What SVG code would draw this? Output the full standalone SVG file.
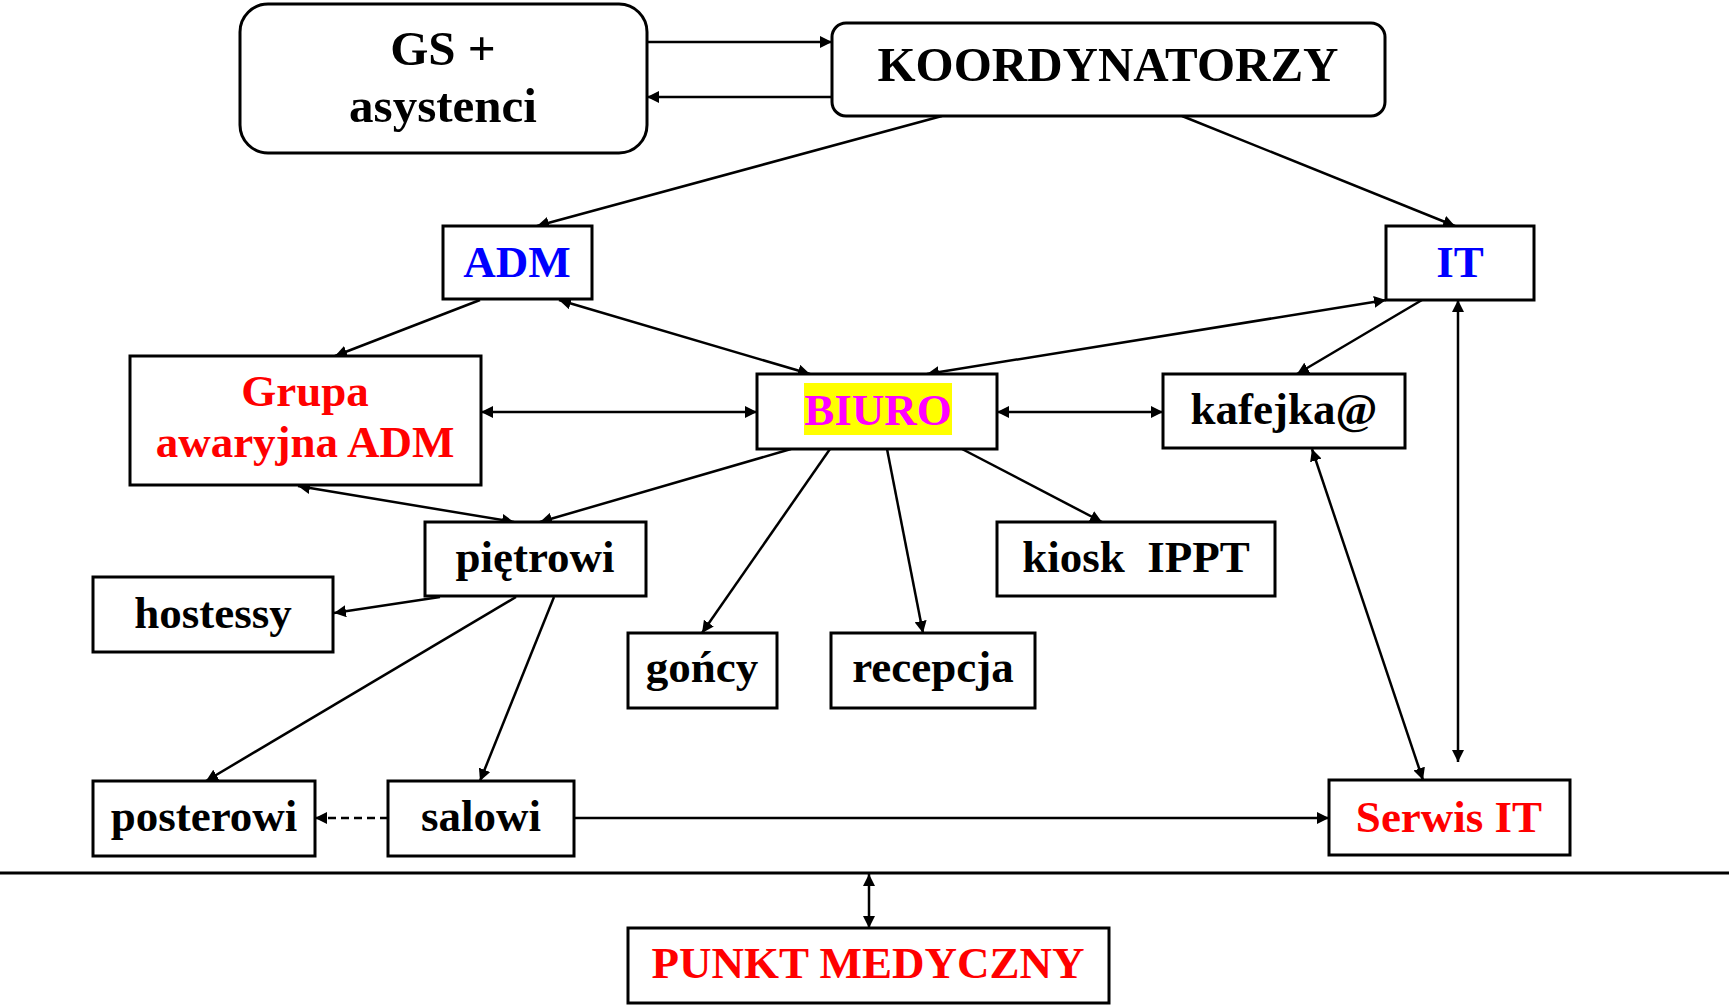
<svg xmlns="http://www.w3.org/2000/svg" width="1729" height="1005" viewBox="0 0 1729 1005">
<defs>
<marker id="ah" markerUnits="userSpaceOnUse" markerWidth="13" markerHeight="12" refX="12" refY="6" orient="auto-start-reverse" viewBox="0 0 13 12">
<path d="M0,0 L12,6 L0,12 z" fill="#000"/>
</marker>
<style>
.box{fill:#fff;stroke:#000;stroke-width:3}
.t{font-family:"Liberation Serif","Times New Roman",serif;font-weight:bold;font-size:45px;text-anchor:middle;fill:#000}
.big{font-size:49px}
.blue{fill:#0000ff}
.red{fill:#ff0000}
.mag{fill:#ff00ff}
.c{stroke:#000;stroke-width:2.5;fill:none}
.e{marker-end:url(#ah)}
.b{marker-start:url(#ah);marker-end:url(#ah)}
.dash{stroke-dasharray:8 5}
</style>
</defs>
<rect width="1729" height="1005" fill="#fff"/>
<g id="connectors">
<line class="c e" x1="647" y1="42" x2="832" y2="42"/>
<line class="c e" x1="832" y1="97" x2="647" y2="97"/>
<line class="c e" x1="942" y1="116" x2="537" y2="226"/>
<line class="c e" x1="1182" y1="116" x2="1455" y2="226"/>
<line class="c b" x1="559" y1="300" x2="810" y2="374"/>
<line class="c b" x1="1386" y1="300" x2="927" y2="374"/>
<line class="c e" x1="480" y1="300" x2="335" y2="356"/>
<line class="c e" x1="1422" y1="300" x2="1297" y2="374"/>
<line class="c b" x1="481" y1="412" x2="757" y2="412"/>
<line class="c b" x1="997" y1="412" x2="1163" y2="412"/>
<line class="c b" x1="1458" y1="300" x2="1458" y2="762"/>
<line class="c b" x1="1312" y1="449" x2="1423" y2="780"/>
<line class="c e" x1="791" y1="449" x2="540" y2="522"/>
<line class="c b" x1="298" y1="486" x2="514" y2="522"/>
<line class="c e" x1="830" y1="449" x2="702" y2="633"/>
<line class="c e" x1="887" y1="449" x2="923" y2="633"/>
<line class="c e" x1="962" y1="449" x2="1102" y2="522"/>
<line class="c e" x1="440" y1="597" x2="334" y2="613"/>
<line class="c e" x1="516" y1="597" x2="206" y2="781"/>
<line class="c e" x1="554" y1="597" x2="480" y2="781"/>
<line class="c e dash" x1="388" y1="818" x2="315" y2="818"/>
<line class="c e" x1="574" y1="818" x2="1329" y2="818"/>
<line class="c b" x1="869" y1="874" x2="869" y2="928"/>
<line x1="0" y1="873" x2="1729" y2="873" stroke="#000" stroke-width="3"/>
</g>
<g id="gs">
<rect class="box" x="240" y="4" width="407" height="149" rx="28"/>
<text class="t big" x="443" y="65">GS +</text>
<text class="t big" x="443" y="122">asystenci</text>
</g>
<g id="koordynatorzy">
<rect class="box" x="832" y="23" width="553" height="93" rx="14"/>
<text class="t big" x="1108" y="81">KOORDYNATORZY</text>
</g>
<g id="adm">
<rect class="box" x="443" y="226" width="149" height="73"/>
<text class="t blue" x="517" y="277">ADM</text>
</g>
<g id="it">
<rect class="box" x="1386" y="226" width="148" height="74"/>
<text class="t blue" x="1460" y="277">IT</text>
</g>
<g id="grupa">
<rect class="box" x="130" y="356" width="351" height="129"/>
<text class="t red" x="305" y="406">Grupa</text>
<text class="t red" x="305" y="457">awaryjna ADM</text>
</g>
<g id="biuro">
<rect class="box" x="757" y="374" width="240" height="75"/>
<rect x="804" y="383" width="148" height="52" fill="#ffff00"/>
<text class="t mag" x="878" y="425">BIURO</text>
</g>
<g id="kafejka">
<rect class="box" x="1163" y="374" width="242" height="74"/>
<text class="t" x="1284" y="424">kafejka@</text>
</g>
<g id="pietrowi">
<rect class="box" x="425" y="522" width="221" height="74"/>
<text class="t" x="535" y="572">piętrowi</text>
</g>
<g id="kiosk">
<rect class="box" x="997" y="522" width="278" height="74"/>
<text class="t" x="1136" y="572" xml:space="preserve">kiosk  IPPT</text>
</g>
<g id="hostessy">
<rect class="box" x="93" y="577" width="240" height="75"/>
<text class="t" x="213" y="628">hostessy</text>
</g>
<g id="goncy">
<rect class="box" x="628" y="633" width="149" height="75"/>
<text class="t" x="702" y="682">gońcy</text>
</g>
<g id="recepcja">
<rect class="box" x="831" y="633" width="204" height="75"/>
<text class="t" x="933" y="682">recepcja</text>
</g>
<g id="posterowi">
<rect class="box" x="93" y="781" width="222" height="75"/>
<text class="t" x="204" y="831">posterowi</text>
</g>
<g id="salowi">
<rect class="box" x="388" y="781" width="186" height="75"/>
<text class="t" x="481" y="831">salowi</text>
</g>
<g id="serwis">
<rect class="box" x="1329" y="780" width="241" height="75"/>
<text class="t red" x="1449" y="832">Serwis IT</text>
</g>
<g id="punkt">
<rect class="box" x="628" y="928" width="481" height="75"/>
<text class="t red" x="868" y="978">PUNKT MEDYCZNY</text>
</g>
</svg>
